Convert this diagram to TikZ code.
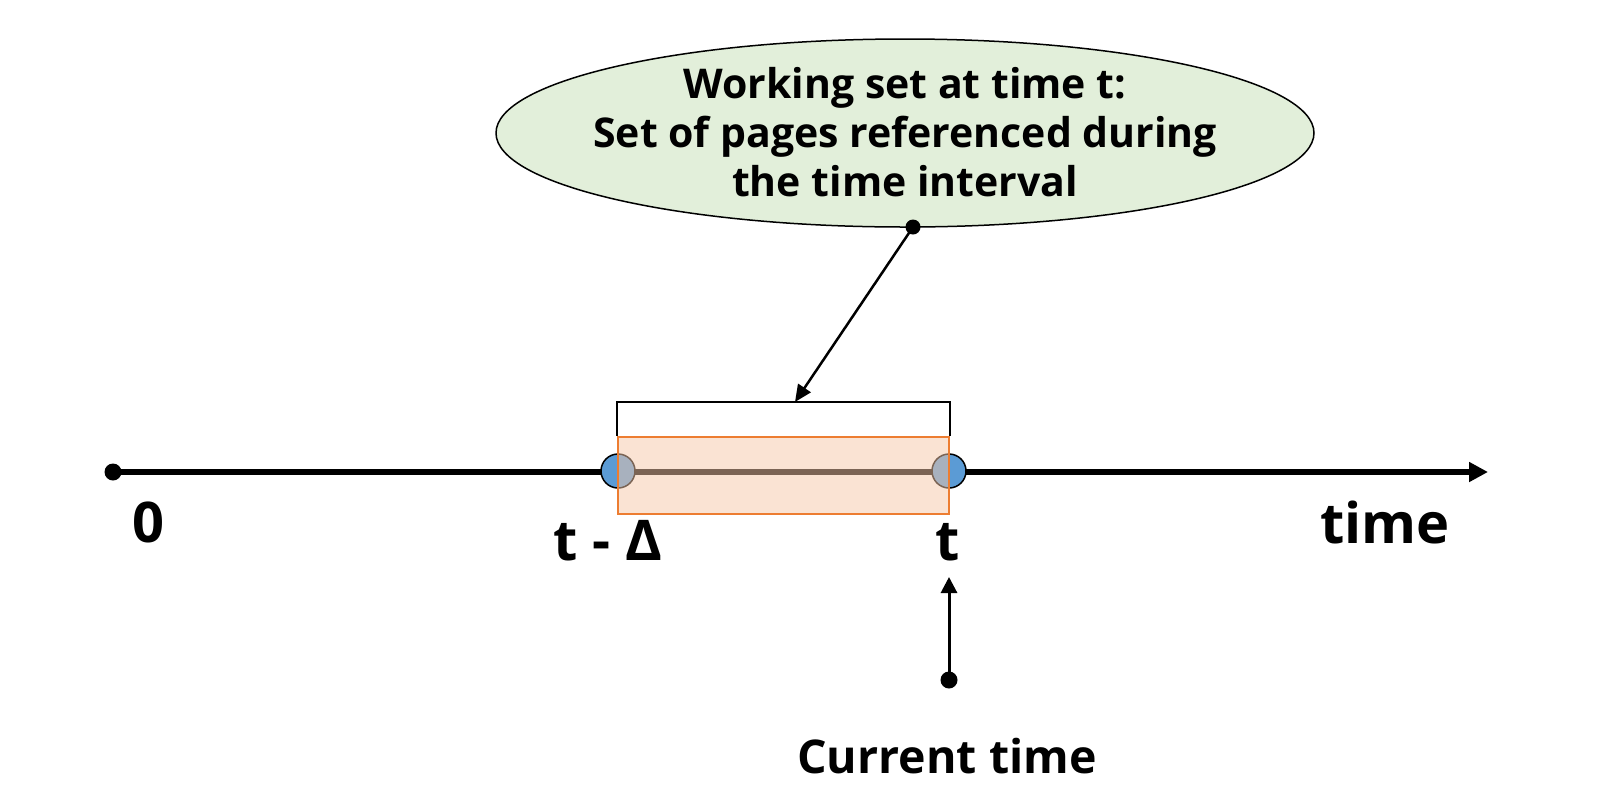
\documentclass[tikz,border=0pt]{standalone}
\usepackage{fontspec}
\setmainfont{Open Sans}
\usetikzlibrary{arrows.meta,shapes.geometric}
\definecolor{ellfill}{RGB}{226,239,218}
\definecolor{ptblue}{RGB}{91,155,213}
\definecolor{winfill}{RGB}{246,200,168}
\definecolor{winedge}{RGB}{237,125,49}
\begin{document}
\begin{tikzpicture}[x=1pt,y=-1pt,
  dot/.style={circle,fill=black,inner sep=0pt,minimum size=17pt},
  endpt/.style={circle,draw=black,line width=1.5pt,fill=ptblue,inner sep=0pt,minimum size=34pt},
  biglabel/.style={font=\fontsize{56}{60}\selectfont\bfseries,inner sep=0pt,anchor=base},
  window/.style={rectangle,draw=winedge,line width=2.2pt,fill=winfill,fill opacity=0.5,inner sep=0pt,minimum width=331pt,minimum height=77pt},
  bubble/.style={ellipse,draw=black,line width=1.5pt,fill=ellfill,inner sep=0pt,minimum width=818pt,minimum height=188pt},
  pointer/.style={line width=2.5pt,-{Triangle[length=17pt,width=15pt]}}]
\useasboundingbox (0,0) rectangle (1616,804);
% speech ellipse
\node[bubble] (ell) at (905,133) {};
\node[align=center,font=\fontsize{41}{49}\selectfont\bfseries,inner sep=0pt] (elltxt) at (905,132)
  {Working set at time t:\\Set of pages referenced during\\the time interval};
\node[dot,minimum size=15pt] (edot) at (913,227) {};
% timeline
\node[dot] (zero) at (113,472) {};
\coordinate (tend) at (1488,472);
\draw[line width=6pt,-{Triangle[length=19pt,width=19pt]}] (zero.center) -- (tend);
% interval end points
\node[endpt] (tl) at (618,471) {};
\node[endpt] (tr) at (949,471) {};
% window
\node[window] (win) at (783.5,475.5) {};
% bracket
\coordinate (btop) at (795,402);
\draw[line width=2pt] (win.north west) |- (btop) -| (win.north east);
\draw[pointer] (edot.center) -- (btop);
% labels
\node[biglabel] (l0) at (148,542) {0};
\node[biglabel] (ltd) at (608,560) {t - Δ};
\node[biglabel] (lt) at (948,560) {t};
\node[biglabel] (ltime) at (1385,543) {time};
% current time
\node[dot] (cdot) at (949,680) {};
\coordinate (ctip) at (949,577);
\draw[line width=3pt,-{Triangle[length=16pt,width=16pt]}] (cdot.center) -- (ctip);
\node[font=\fontsize{46.5}{50}\selectfont\bfseries,inner sep=0pt,anchor=base] (cur) at (947,773) {Current time};
\end{tikzpicture}
\end{document}
